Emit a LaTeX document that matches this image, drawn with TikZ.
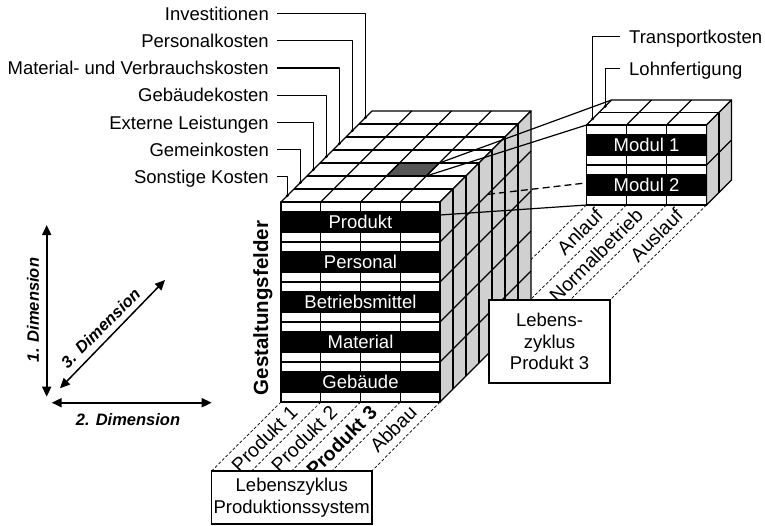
\documentclass[tikz,border=0pt]{standalone}
\usepackage{fontspec}
\setmainfont{Liberation Sans}
\usetikzlibrary{arrows.meta}
\definecolor{sideface}{RGB}{208,208,208}
\definecolor{darkcell}{RGB}{85,85,85}
\begin{document}
\begin{tikzpicture}[x=1pt,y=-1pt,
  edge/.style={line width=1.2pt, line join=round},
  lbl/.style={font=\fontsize{18.5}{22}\selectfont, inner sep=0pt},
  phaselbl/.style={font=\fontsize{19.5}{22}\selectfont, inner sep=0pt, rotate=45, anchor=east},
  bandtext/.style={lbl, text=white},
  pin/.style={circle, fill=black, inner sep=0pt, minimum size=3.2pt},
  phaseline/.style={line width=0.7pt, dash pattern=on 3pt off 2pt},
  hiddenline/.style={line width=1.3pt, dash pattern=on 7pt off 4pt},
  dimarrow/.style={line width=1.8pt, {Triangle[length=10pt,width=9pt]}-{Triangle[length=10pt,width=9pt]}},
  dimtext/.style={font=\fontsize{16.5}{18}\selectfont\bfseries\itshape, inner sep=0pt},
  lcbox/.style={draw, line width=1.2pt, fill=white, align=center, inner sep=0pt,
                font=\fontsize{18.5}{21.5}\selectfont}
]
\useasboundingbox (0,0) rectangle (765,525);

% ---------- phase strips below both cubes ----------
\foreach \j in {0,...,4} {
  \coordinate (mt\j) at ({281+39.75*\j},402);
  \coordinate (mb\j) at ({211.5+40.1*\j},471);
  \draw[phaseline] (mt\j) -- (mb\j);
}
\foreach \j/\t in {0/Produkt 1,1/Produkt 2,2/{\bfseries Produkt 3},3/Abbau}
  \node[phaselbl] (ph\j) at ({281+39.75*\j+19.9-7},409) {\t};

\foreach \j in {0,...,3} {
  \coordinate (st\j) at ({586.5+40*\j},205);
  \coordinate (sb\j) at ({490+40*\j},300);
  \draw[phaseline] (st\j) -- (sb\j);
}
\foreach \j/\t in {0/Anlauf,1/Normalbetrieb,2/Auslauf}
  \node[phaselbl] (sp\j) at ({586.5+40*\j+20-7},212) {\t};

% ---------- main cube ----------
% top face
\filldraw[edge, fill=white] (281,202) -- (440,202) -- (531,111) -- (372,111) -- cycle;
\filldraw[edge, fill=darkcell] (386.5,176) -- (426.25,176) -- (439.25,163) -- (399.5,163) -- cycle;
\foreach \j in {1,2,3}
  \draw[edge] ({281+39.75*\j},202) -- ++(91,-91);
\foreach \k in {1,...,6}
  \draw[edge] ({281+13*\k},{202-13*\k}) -- ++(159,0);
% right face
\filldraw[edge, fill=sideface] (440,202) -- (531,111) -- (531,311) -- (440,402) -- cycle;
\foreach \k in {1,...,6}
  \draw[edge] ({440+13*\k},{202-13*\k}) -- ++(0,200);
\foreach \g in {1,...,4}
  \draw[edge] (440,{202+40*\g}) -- ++(91,-91);
% front face
\filldraw[edge, fill=white] (281,202) rectangle (440,402);
\foreach \g in {0,...,4} {
  \draw[edge] (281,{212+40*\g}) -- (440,{212+40*\g});
  \draw[edge] (281,{232+40*\g}) -- (440,{232+40*\g});
  \draw[edge] (281,{242+40*\g}) -- (440,{242+40*\g});
}
\foreach \j in {1,2,3}
  \draw[edge] ({281+39.75*\j},202) -- ++(0,200);
\foreach \g/\t in {0/Produkt,1/Personal,2/Betriebsmittel,3/Material,4/Gebäude} {
  \filldraw[edge, fill=black] (281,{212+40*\g}) rectangle (440,{232+40*\g});
  \node[bandtext, anchor=base] (field\g) at (360.5,{228.6+40*\g}) {\t};
}
\node[lbl, font=\fontsize{20.5}{22}\selectfont\bfseries, rotate=90, anchor=base]
  (gf) at (268,308) {Gestaltungsfelder};

% ---------- cost type call-outs ----------
\foreach \k/\t in {0/Sonstige Kosten,1/Gemeinkosten,2/Externe Leistungen,3/Gebäudekosten,
                   4/Material- und Verbrauchskosten,5/Personalkosten,6/Investitionen} {
  \coordinate (cd\k) at ({281+13*(\k+0.5)},{202-13*(\k+0.5)});
  \coordinate (cl\k) at (277,{176.7-27.2*\k});
  \node[lbl, anchor=base east] (cost\k) at (269,{183.4-27.2*\k}) {\t};
  \draw[edge] (cl\k) -| (cd\k);
  \node[pin] at (cd\k) {};
}

% ---------- boxes of the two life cycles ----------
\node[lcbox, minimum width=160.5pt, minimum height=53pt] (lcps) at (291.75,497.5)
  {Lebenszyklus\\Produktionssystem};
\node[lcbox, minimum width=121pt, minimum height=83pt] (lcp3) at (549.5,341.5)
  {Lebens-\\zyklus\\Produkt 3};

% ---------- detail cube ----------
\coordinate (cellBR) at (439.25,163);
\coordinate (cellFR) at (426.25,176);
\coordinate (cellLow) at (440,215);
\coordinate (cellHid) at (488,194.3);
\coordinate (dFTL) at (586.5,125);
\coordinate (dBTL) at (611.5,100);
\coordinate (dFBL) at (586.5,205);
\coordinate (dBBL) at (611.5,180);
\draw[edge] (cellBR) -- (dBTL);
\draw[edge] (cellFR) -- (dFTL);
\draw[edge] (cellLow) -- (dFBL);
\draw[hiddenline] (cellHid) -- (dBBL);

% top face
\filldraw[edge, fill=white] (dFTL) -- (706.5,125) -- (731.5,100) -- (dBTL) -- cycle;
\foreach \j in {1,2}
  \draw[edge] ({586.5+40*\j},125) -- ++(25,-25);
\draw[edge] (599,112.5) -- ++(120,0);
% right face
\filldraw[edge, fill=sideface] (706.5,125) -- (731.5,100) -- (731.5,180) -- (706.5,205) -- cycle;
\draw[edge] (719,112.5) -- ++(0,80);
\draw[edge] (706.5,165) -- ++(25,-25);
% front face
\filldraw[edge, fill=white] (dFTL) rectangle (706.5,205);
\foreach \y in {135,155,165,175,195}
  \draw[edge] (586.5,\y) -- (706.5,\y);
\foreach \j in {1,2}
  \draw[edge] ({586.5+40*\j},125) -- ++(0,80);
\foreach \g/\t in {0/Modul 1,1/Modul 2} {
  \filldraw[edge, fill=black] (586.5,{135+40*\g}) rectangle (706.5,{155+40*\g});
  \node[bandtext, anchor=base] (mod\g) at (646.5,{151.6+40*\g}) {\t};
}

% call-outs of the detail cube
\coordinate (td0) at (592.75,118.75);
\coordinate (td1) at (605.25,106.25);
\coordinate (tl0) at (620,36.7);
\coordinate (tl1) at (620,68.3);
\draw[edge] (tl0) -| (td0);
\draw[edge] (tl1) -| (td1);
\node[pin] at (td0) {};
\node[pin] at (td1) {};
\node[lbl, anchor=base west] (tk) at (629,43.4) {Transportkosten};
\node[lbl, anchor=base west] (lf) at (629,75) {Lohnfertigung};

% ---------- dimension axes ----------
\coordinate (a1b) at (46.7,396.7);
\coordinate (a1t) at (46.7,225);
\coordinate (a2l) at (51.7,402.7);
\coordinate (a2r) at (211.7,402.7);
\coordinate (a3l) at (60,388.3);
\coordinate (a3r) at (165,280);
\draw[dimarrow] (a1b) -- (a1t);
\draw[dimarrow] (a2l) -- (a2r);
\draw[dimarrow, line width=1.5pt] (a3l) -- (a3r);
\node[dimtext, rotate=90] (dim1) at (33,310) {1. Dimension};
\node[dimtext] (dim2) at (128,420) {2. Dimension};
\node[dimtext, rotate=45] (dim3) at (100.5,328) {3. Dimension};
\end{tikzpicture}
\end{document}
